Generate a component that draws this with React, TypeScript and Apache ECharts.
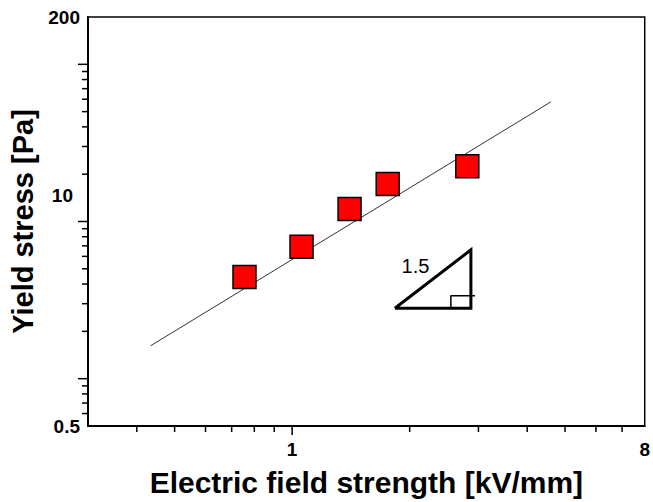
import React, { useEffect, useRef } from 'react';
import * as echarts from 'echarts';

const fieldStrength = [0.755, 1.057, 1.403, 1.757, 2.81];
const yieldStress = [4.44, 6.92, 12.0, 17.3, 22.5];
const fitLineX = [0.434, 4.6];
const fitLineY = [1.62, 57.7];
const triangleX = [1.833, 2.87, 2.87, 1.833];
const triangleY = [2.805, 2.805, 6.6, 2.805];
const rightAngleX = [2.55, 2.55, 2.94];
const rightAngleY = [2.805, 3.373, 3.373];
const slopeLabelText = '1.5';
const slopeLabelPos = [2.07, 5.21];
const xRange = [0.3, 8];
const yRange = [0.5, 200];
const xMinorTicks = [0.4, 0.5, 0.6, 0.7, 0.8, 0.9, 2, 3, 4, 5, 6, 7];
const xMajorTicks = [1];
const yMinorTicks = [0.6, 0.7, 0.8, 0.9, 2, 3, 4, 5, 6, 7, 8, 9, 20, 30, 40, 50, 60, 70, 80, 90];
const yMajorTicks = [1, 10, 100];
const xTickLabels = ['1', '8'];
const yTickLabels = ['0.5', '10', '200'];
const xTitle = 'Electric field strength [kV/mm]';
const yTitle = 'Yield stress [Pa]';

const FONT = 'Liberation Sans, Arial, sans-serif';

export default function App() {
  const ref = useRef<HTMLDivElement>(null);
  useEffect(() => {
    if (!ref.current) return;
    const chart = echarts.init(ref.current, null, { renderer: 'svg' });
    const norm = (v: number) => String(+Number(v).toPrecision(6));
    const zip = (a: number[], b: number[]) => a.map((v, i) => [v, b[i]]);
    const xTickData = [
      ...xMinorTicks.map((v) => [v, yRange[0], 0]),
      ...xMajorTicks.map((v) => [v, yRange[0], 1]),
    ];
    const yTickData = [
      ...yMinorTicks.map((v) => [xRange[0], v, 0]),
      ...yMajorTicks.map((v) => [xRange[0], v, 1]),
    ];
    chart.setOption({
      animation: false,
      backgroundColor: '#fff',
      grid: {
        left: 88,
        right: 4,
        top: 17,
        bottom: 74,
        show: true,
        borderColor: '#000',
        borderWidth: 1.5,
        backgroundColor: 'transparent',
      },
      xAxis: {
        type: 'log',
        logBase: 10,
        min: xRange[0],
        max: xRange[1],
        axisLine: { show: true, lineStyle: { color: '#000', width: 2 } },
        axisTick: { show: false },
        minorTick: { show: false },
        splitLine: { show: false },
        axisLabel: {
          margin: 14,
          color: '#000',
          fontSize: 19,
          fontWeight: 'bold',
          fontFamily: FONT,
          showMinLabel: true,
          showMaxLabel: true,
          formatter: (v: number) => {
            const s = norm(v);
            return xTickLabels.includes(s) ? s : '';
          },
        },
        name: xTitle,
        nameLocation: 'middle',
        nameGap: 41,
        nameTextStyle: { color: '#000', fontSize: 30, fontWeight: 'bold', fontFamily: FONT },
      },
      yAxis: {
        type: 'log',
        logBase: 10,
        min: yRange[0],
        max: yRange[1],
        axisLine: { show: true, lineStyle: { color: '#000', width: 2 } },
        axisTick: { show: false },
        minorTick: { show: false },
        splitLine: { show: false },
        axisLabel: {
          margin: 8,
          color: '#000',
          fontSize: 19,
          fontWeight: 'bold',
          fontFamily: FONT,
          showMinLabel: true,
          showMaxLabel: true,
          formatter: (v: number) => {
            const s = norm(v);
            if (!yTickLabels.includes(s)) return '';
            return s === '10' ? '{up|10}' : s;
          },
          rich: {
            up: {
              padding: [0, 7, 52, 0],
              color: '#000',
              fontSize: 19,
              fontWeight: 'bold',
              fontFamily: FONT,
            },
          },
        },
        name: yTitle,
        nameLocation: 'middle',
        nameGap: 47,
        nameTextStyle: { color: '#000', fontSize: 29, fontWeight: 'bold', fontFamily: FONT },
      },
      series: [
        {
          type: 'custom',
          clip: false,
          silent: true,
          data: xTickData,
          encode: { x: 0, y: 1 },
          renderItem: (params: any, api: any) => {
            const p = api.coord([api.value(0), api.value(1)]);
            const len = api.value(2) ? 9 : 6;
            return {
              type: 'line',
              shape: { x1: p[0], y1: p[1], x2: p[0], y2: p[1] + len },
              style: { stroke: '#000', lineWidth: 1.5 },
            };
          },
        },
        {
          type: 'custom',
          clip: false,
          silent: true,
          data: yTickData,
          encode: { x: 0, y: 1 },
          renderItem: (params: any, api: any) => {
            const p = api.coord([api.value(0), api.value(1)]);
            const len = api.value(2) ? 10 : 6;
            return {
              type: 'line',
              shape: { x1: p[0] - len, y1: p[1], x2: p[0], y2: p[1] },
              style: { stroke: '#000', lineWidth: 1.5 },
            };
          },
        },
        {
          type: 'line',
          data: zip(fitLineX, fitLineY),
          symbol: 'none',
          lineStyle: { color: '#333', width: 1 },
          silent: true,
        },
        {
          type: 'line',
          data: zip(triangleX, triangleY),
          symbol: 'none',
          lineStyle: { color: '#000', width: 3, join: 'miter' },
          silent: true,
        },
        {
          type: 'line',
          data: zip(rightAngleX, rightAngleY),
          symbol: 'none',
          lineStyle: { color: '#000', width: 1.5 },
          silent: true,
        },
        {
          type: 'scatter',
          data: [slopeLabelPos],
          symbolSize: 0,
          silent: true,
          itemStyle: { opacity: 1 },
          label: {
            show: true,
            position: 'inside',
            formatter: slopeLabelText,
            color: '#000',
            opacity: 1,
            fontSize: 20,
            fontFamily: FONT,
          },
        },
        {
          type: 'scatter',
          data: zip(fieldStrength, yieldStress),
          symbol: 'rect',
          symbolSize: 23,
          itemStyle: { color: '#ff0000', borderColor: '#000', borderWidth: 1.5, opacity: 1 },
          z: 5,
        },
      ],
    });
    return () => chart.dispose();
  }, []);
  return (
    <div
      ref={ref}
      style={{ position: 'absolute', left: 0, top: 0, width: 653, height: 502 }}
    />
  );
}
